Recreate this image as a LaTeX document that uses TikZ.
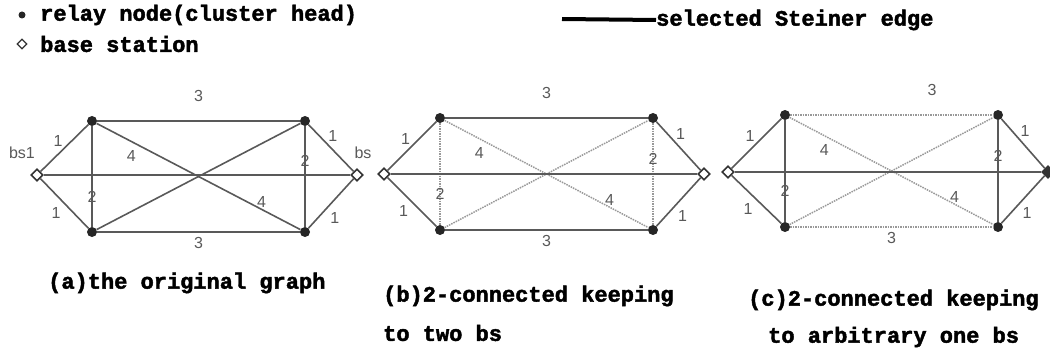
\documentclass[tikz,border=0pt]{standalone}
\usepackage{fontspec}
\setmainfont{Liberation Sans}
\setmonofont[BoldFeatures={FakeBold=2}]{Liberation Mono}
\usetikzlibrary{shapes.geometric}

\begin{document}
\begin{tikzpicture}[x=1pt, y=-1pt,
  every node/.style={font=\fontsize{16}{18}\selectfont, text=black!65, inner sep=1pt},
  relay/.style={circle, fill=black!85, minimum size=10pt, inner sep=0pt},
  bsn/.style={diamond, draw=black!80, fill=white, line width=1.6pt, minimum size=12pt, inner sep=0pt},
  sel/.style={draw=black!65, line width=1.6pt},
  unsel/.style={draw=black!40, densely dotted, line width=1.5pt},
  captext/.style={font=\ttfamily\bfseries\fontsize{22}{26}\selectfont, text=black, anchor=west, inner sep=0pt}]
\useasboundingbox (0,0) rectangle (1050,350);

% legend
\node[relay, minimum size=7pt] (kr) at (22,15) {};
\node[captext] (krt) at (40,15) {relay node(cluster head)};
\node[bsn, minimum size=10pt, line width=1.3pt] (kb) at (22,44) {};
\node[captext] (kbt) at (40,44) {base station};
\coordinate (ks) at (562,19);
\node[captext] (kst) at (656,20) {selected Steiner edge};
\draw[line width=4pt, black] (ks) -- (kst.west);

% (a) the original graph
\node[bsn] (a0) at (37,175) {};
\node[relay] (a1) at (92,121) {};
\node[relay] (a2) at (305,121) {};
\node[relay] (a3) at (92,232) {};
\node[relay] (a4) at (305,232) {};
\node[bsn] (a5) at (357,175) {};
\node (a0t) at (22,153) {bs1};
\node (a5t) at (363,153) {bs};

\draw[sel] (a0) -- (a1) node[midway, above left] (a01) {1};
\draw[sel] (a0) -- (a3) node[midway, below left=2pt] (a03) {1};
\draw[sel] (a1) -- (a2) node[midway, above=18pt] (a12) {3};
\draw[sel] (a3) -- (a4) node[midway, below=4pt] (a34) {3};
\draw[sel] (a1) -- (a3) node[pos=.7] (a13) {2};
\draw[sel] (a2) -- (a4) node[pos=.35] (a24) {2};
\draw[sel] (a1) -- (a4) node[pos=.17, below=7pt] (a14) {4} node[pos=.81, above] (a14b) {4};
\draw[sel] (a3) -- (a2);
\draw[sel] (a0) -- (a5);
\draw[sel] (a2) -- (a5) node[pos=.4, above right] (a25) {1};
\draw[sel] (a4) -- (a5) node[pos=.4, below right=2pt] (a45) {1};

% (b) keeping to two bs
\node[bsn] (b0) at (384,174) {};
\node[relay] (b1) at (440,118) {};
\node[relay] (b2) at (653,118) {};
\node[relay] (b3) at (440,230) {};
\node[relay] (b4) at (653,230) {};
\node[bsn] (b5) at (704,174) {};

\draw[sel] (b0) -- (b1) node[midway, above left] (b01) {1};
\draw[sel] (b0) -- (b3) node[midway, below left=2pt] (b03) {1};
\draw[sel] (b1) -- (b2) node[midway, above=18pt] (b12) {3};
\draw[sel] (b3) -- (b4) node[midway, below=4pt] (b34) {3};
\draw[unsel] (b1) -- (b3) node[pos=.7] (b13) {2};
\draw[unsel] (b2) -- (b4) node[pos=.35] (b24) {2};
\draw[unsel] (b1) -- (b4) node[pos=.17, below=7pt] (b14) {4} node[pos=.81, above] (b14b) {4};
\draw[unsel] (b3) -- (b2);
\draw[sel] (b0) -- (b5);
\draw[sel] (b2) -- (b5) node[pos=.4, above right] (b25) {1};
\draw[sel] (b4) -- (b5) node[pos=.4, below right=2pt] (b45) {1};

% (c) keeping to arbitrary one bs
\node[bsn] (c0) at (728,172) {};
\node[relay] (c1) at (785,115) {};
\node[relay] (c2) at (998,115) {};
\node[relay] (c3) at (785,227) {};
\node[relay] (c4) at (998,227) {};
\node[bsn, fill=black!80] (c5) at (1048,172) {};

\draw[sel] (c0) -- (c1) node[midway, above left] (c01) {1};
\draw[sel] (c0) -- (c3) node[midway, below left=2pt] (c03) {1};
\draw[unsel] (c1) -- (c2) node[pos=.7, above=18pt] (c12) {3};
\draw[unsel] (c3) -- (c4) node[midway, below=4pt] (c34) {3};
\draw[sel] (c1) -- (c3) node[pos=.7] (c13) {2};
\draw[sel] (c2) -- (c4) node[pos=.35] (c24) {2};
\draw[unsel] (c1) -- (c4) node[pos=.17, below=7pt] (c14) {4} node[pos=.81, above] (c14b) {4};
\draw[unsel] (c3) -- (c2);
\draw[sel] (c0) -- (c5);
\draw[sel] (c2) -- (c5) node[pos=.4, above right] (c25) {1};
\draw[sel] (c4) -- (c5) node[pos=.4, below right=2pt] (c45) {1};

% captions
\node[captext] (capa) at (48,283) {(a)the original graph};
\node[captext] (capb1) at (383,296) {(b)2-connected keeping};
\node[captext] (capb2) at (383,333) {to two bs};
\node[captext] (capc1) at (748,300) {(c)2-connected keeping};
\node[captext] (capc2) at (768,337) {to arbitrary one bs};
\end{tikzpicture}
\end{document}
